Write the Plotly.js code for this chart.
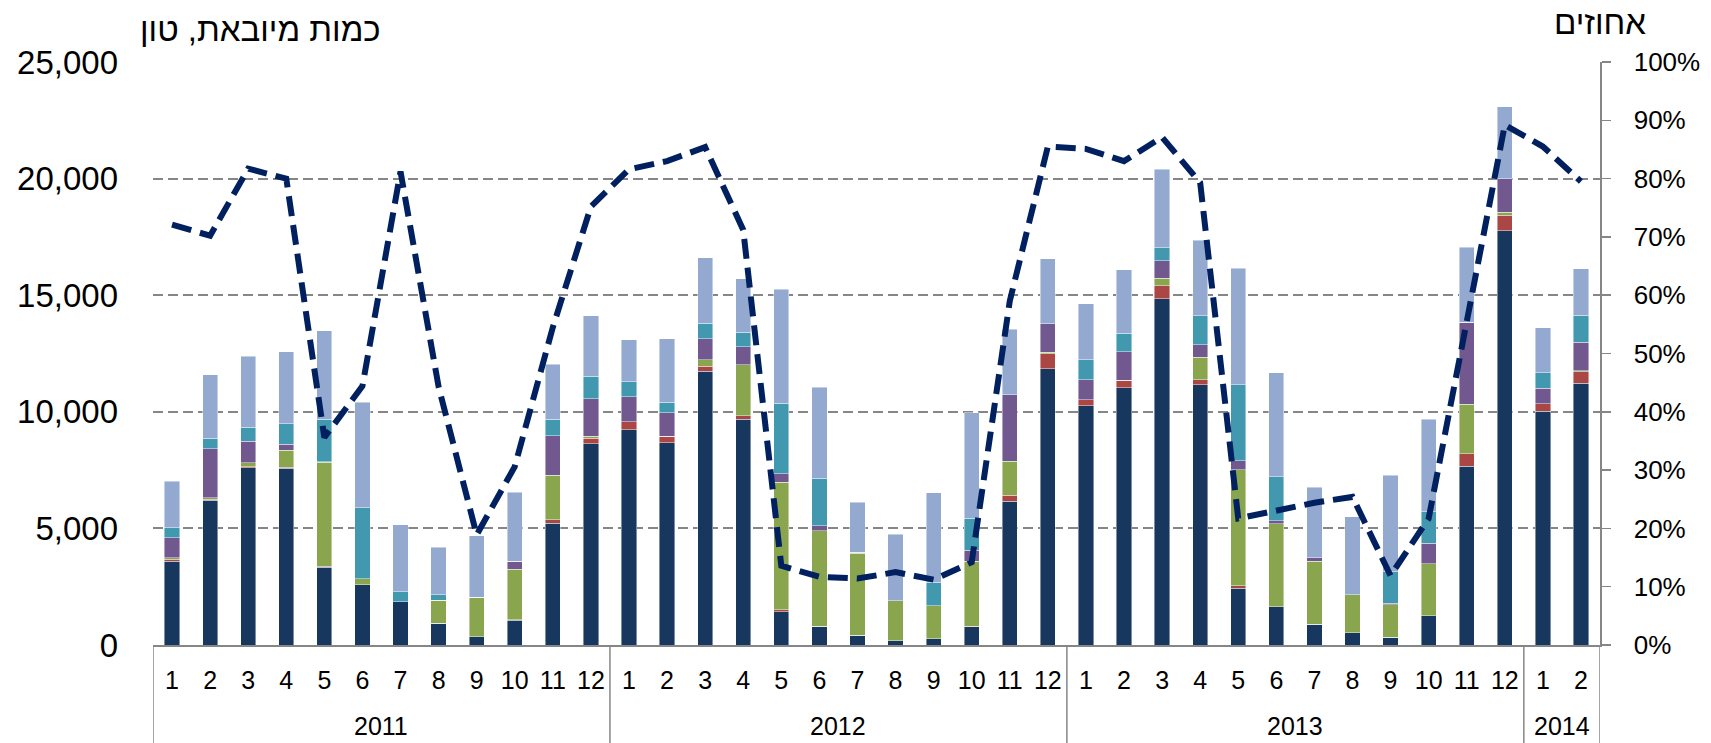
<!DOCTYPE html>
<html>
<head>
<meta charset="utf-8">
<script src="https://cdn.plot.ly/plotly-3.0.1.min.js"></script>
<style>
  html, body { margin: 0; padding: 0; background: #ffffff; }
  #chart { width: 1711px; height: 743px; }
</style>
</head>
<body>
<div id="chart"></div>
<script>
// Category labels (year, month)
const yearLabels = [
  '2011','2011','2011','2011','2011','2011','2011','2011','2011','2011','2011','2011',
  '2012','2012','2012','2012','2012','2012','2012','2012','2012','2012','2012','2012',
  '2013','2013','2013','2013','2013','2013','2013','2013','2013','2013','2013','2013',
  '2014','2014'
];
const monthLabels = [
  '1','2','3','4','5','6','7','8','9','10','11','12',
  '1','2','3','4','5','6','7','8','9','10','11','12',
  '1','2','3','4','5','6','7','8','9','10','11','12',
  '1','2'
];

// Stacked series, tons
const seriesNavy = [3600,6200,7600,7570,3340,2590,1860,930,360,1060,5230,8620,
  9230,8670,11740,9690,1420,800,410,190,270,790,6170,11840,
  10270,11040,14840,11150,2440,1640,900,530,340,1250,7670,17770,
  10030,11230];
const seriesRed = [80,50,40,50,30,0,0,0,0,20,140,255,
  340,290,220,135,85,0,0,0,0,10,250,640,
  250,320,560,220,100,0,0,0,0,0,525,660,
  320,490];
const seriesGreen = [70,60,170,730,4460,250,0,980,1680,2170,1910,85,
  0,0,270,2200,5470,4110,3520,1710,1420,2800,1460,70,
  0,0,320,965,4980,3560,2690,1630,1390,2240,2120,120,
  0,50];
const seriesPurple = [850,2100,930,255,30,10,0,0,0,340,1690,1590,
  1070,1000,900,760,360,200,50,0,0,460,2850,1220,
  860,1220,750,540,390,135,150,0,70,880,3520,1440,
  660,1220];
const seriesTeal = [420,460,590,880,1830,3030,420,240,0,0,710,980,
  640,460,660,630,3030,2050,0,0,1000,1370,0,0,
  860,780,560,1240,3240,1880,0,0,1340,1340,0,0,
  660,1150];
const seriesLightBlue = [2010,2710,3050,3100,3780,4520,2880,2050,2640,2960,2350,2590,
  1810,2710,2810,2290,4880,3900,2150,2850,3830,4520,2800,2800,
  2400,2740,3370,3250,5010,4460,3020,3350,4150,3980,3220,3100,
  1930,2000];

// Share line, percent (right axis)
const sharePct = [72.1,70.2,81.7,80.0,35.6,44.4,81.2,44.3,18.9,30.6,54.5,75.2,
  81.6,83.0,85.4,71.2,13.6,11.7,11.4,12.5,11.2,14.2,59.0,85.5,
  85.1,83.0,87.1,79.3,21.7,23.0,24.4,25.4,11.9,21.7,55.7,89.2,
  85.5,79.5];

// Unique category keys; months shown as tick text
const xKeys = yearLabels.map((y, i) => y + '-' + monthLabels[i]);
const barLine = { color: 'rgba(255,255,255,0.55)', width: 0.8 };

function barTrace(values, color) {
  return { type: 'bar', x: xKeys, y: values, marker: { color: color, line: barLine },
           hoverinfo: 'y', showlegend: false };
}

const traces = [
  barTrace(seriesNavy, '#17375E'),
  barTrace(seriesRed, '#AA4643'),
  barTrace(seriesGreen, '#89A54E'),
  barTrace(seriesPurple, '#71588F'),
  barTrace(seriesTeal, '#4198AF'),
  barTrace(seriesLightBlue, '#93A9CF'),
  { type: 'scatter', mode: 'lines', x: xKeys, y: sharePct.map(v => v / 100), yaxis: 'y2',
    line: { color: '#002060', width: 6, dash: '20px,9px' }, showlegend: false }
];

// Year groups: labels centred under their months, dividers between groups
const groups = [];
yearLabels.forEach((y, i) => {
  if (!groups.length || groups[groups.length - 1].year !== y) groups.push({ year: y, first: i, last: i });
  else groups[groups.length - 1].last = i;
});
const FONT = 'Liberation Sans, Arial, sans-serif';
const yearAnnotations = groups.map(g => ({
  text: g.year, xref: 'x', yref: 'paper', x: (g.first + g.last) / 2, y: -0.139,
  xanchor: 'center', yanchor: 'middle', showarrow: false,
  font: { size: 25, color: '#000000', family: FONT }
}));
const dividerPositions = groups.map(g => g.first - 0.5).concat([groups[groups.length - 1].last + 0.5]);
const dividerShapes = dividerPositions.map(p => ({
  type: 'line', xref: 'x', yref: 'paper', x0: p, x1: p, y0: 0, y1: -0.2,
  line: { color: '#868686', width: 1.5 }
}));

const layout = {
  width: 1711, height: 743,
  margin: { l: 153, r: 111, t: 62, b: 98 },
  paper_bgcolor: '#ffffff', plot_bgcolor: '#ffffff',
  barmode: 'stack', bargap: 0.6,
  font: { family: FONT, color: '#000000' },
  xaxis: {
    type: 'category', tickmode: 'array', tickvals: xKeys, ticktext: monthLabels,
    range: [-0.5, xKeys.length - 0.5],
    showline: true, linecolor: '#868686', linewidth: 1.5,
    ticks: '', showgrid: false, ticklabelstandoff: 12,
    tickfont: { size: 25, color: '#000000' }
  },
  yaxis: {
    range: [0, 25000], dtick: 5000, tickformat: ',d',
    showgrid: true, gridcolor: '#868686', gridwidth: 2, griddash: '10px,5px',
    zeroline: false, showline: false, ticks: '',
    ticklabelstandoff: 34,
    tickfont: { size: 33, color: '#000000' }
  },
  yaxis2: {
    overlaying: 'y', side: 'right', range: [0, 1], dtick: 0.1, tickformat: '.0%',
    showgrid: false, zeroline: false,
    showline: true, linecolor: '#868686', linewidth: 1.5,
    ticks: 'outside', ticklen: 9, tickcolor: '#868686', tickwidth: 1.5,
    ticklabelstandoff: 18,
    tickfont: { size: 26, color: '#000000' }
  },
  shapes: dividerShapes,
  annotations: yearAnnotations.concat([
    { text: 'כמות מיובאת, טון', xref: 'paper', yref: 'paper', x: 0.074, y: 1.055,
      xanchor: 'center', yanchor: 'middle', showarrow: false,
      font: { size: 33, color: '#000000', family: FONT } },
    { text: 'אחוזים', xref: 'paper', yref: 'paper', x: 1.0, y: 1.067,
      xanchor: 'center', yanchor: 'middle', showarrow: false,
      font: { size: 33, color: '#000000', family: FONT } }
  ])
};

Plotly.newPlot('chart', traces, layout, { displayModeBar: false, staticPlot: true });
</script>
</body>
</html>
